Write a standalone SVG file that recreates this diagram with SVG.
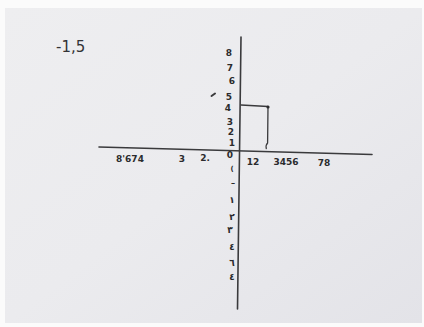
<svg xmlns="http://www.w3.org/2000/svg" width="424" height="327" viewBox="0 0 424 327">
<defs>
<linearGradient id="paper" x1="0" y1="0" x2="1" y2="1">
<stop offset="0" stop-color="#eeeef0"/>
<stop offset="0.5" stop-color="#ebebee"/>
<stop offset="1" stop-color="#e3e3e8"/>
</linearGradient>
<style>
.ink{stroke:#3a3a3c;fill:none;stroke-linecap:round;stroke-linejoin:round}
.ax{stroke-width:1.6}
.lb{font-family:"DejaVu Sans",sans-serif;font-size:9px;font-weight:bold;fill:#2b2b2d;text-anchor:middle}
.sm{font-size:7px}
.big{font-family:"DejaVu Sans",sans-serif;font-size:15px;fill:#333336}
</style>
</defs>
<rect width="424" height="327" fill="#fbfbfb"/>
<rect x="5" y="8" width="417" height="315" fill="url(#paper)"/>
<g id="axes">
<path class="ink ax" d="M241,37 L237.5,309"/>
<path class="ink ax" d="M99,147 L372,154.5"/>
</g>
<g id="marker">
<path class="ink" stroke-width="1.3" d="M241,105 L268,106.5 L267.6,143 Q265.5,145 266.3,148.5"/>
<circle cx="268" cy="107" r="1.6" fill="#2b2b2d"/>
<path class="ink" stroke-width="2" d="M211.5,96 L215,93.5"/>
</g>
<text class="big" x="56" y="52">-1,5</text>
<g id="ylabels-pos">
<text class="lb" x="229" y="56">8</text>
<text class="lb" x="230" y="71">7</text>
<text class="lb" x="232" y="84">6</text>
<text class="lb" x="229" y="100">5</text>
<text class="lb" x="228" y="111">4</text>
<text class="lb" x="230" y="125">3</text>
<text class="lb" x="231" y="135">2</text>
<text class="lb" x="232" y="146">1</text>
</g>
<text class="lb" x="230" y="158">0</text>
<g id="xlabels-neg">
<text class="lb" x="130" y="162">8'674</text>
<text class="lb" x="182" y="162">3</text>
<text class="lb" x="205" y="161">2.</text>
</g>
<g id="xlabels-pos">
<text class="lb" x="253" y="165">12</text>
<text class="lb" x="286" y="165">3456</text>
<text class="lb" x="324" y="166">78</text>
</g>
<g id="ylabels-neg">
<text class="lb sm" x="232" y="171">(</text>
<text class="lb" x="233" y="184">ـ</text>
<text class="lb" x="232" y="203">١</text>
<text class="lb" x="232" y="220">٢</text>
<text class="lb" x="230" y="233">٣</text>
<text class="lb" x="232" y="250">٤</text>
<text class="lb" x="232" y="266">٦</text>
<text class="lb" x="232" y="280">٤</text>
</g>
</svg>
